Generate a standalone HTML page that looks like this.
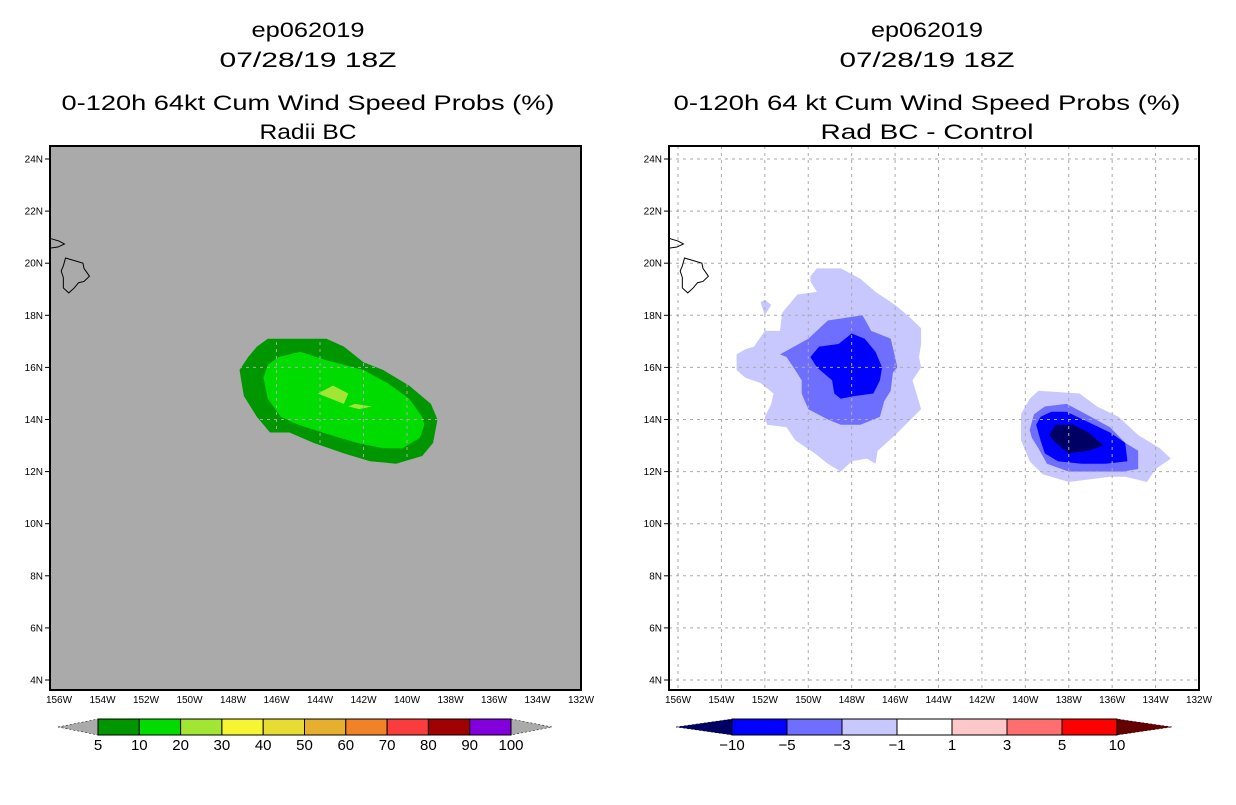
<!DOCTYPE html>
<html><head><meta charset="utf-8">
<style>
html,body{margin:0;padding:0;background:#fff;}
svg text{font-family:"Liberation Sans",sans-serif;}
</style></head>
<body>
<svg id="chart" width="1236" height="800" viewBox="0 0 1236 800" xmlns="http://www.w3.org/2000/svg">
<g font-size="21" text-anchor="middle" fill="#000" lengthAdjust="spacingAndGlyphs">
<text x="308" y="37" textLength="113" lengthAdjust="spacingAndGlyphs">ep062019</text>
<text x="308" y="67" textLength="177" lengthAdjust="spacingAndGlyphs">07/28/19 18Z</text>
<text x="308" y="110" textLength="493" lengthAdjust="spacingAndGlyphs">0-120h 64kt Cum Wind Speed Probs (%)</text>
<text x="308" y="139" textLength="97" lengthAdjust="spacingAndGlyphs">Radii BC</text>
<text x="927" y="37" textLength="112" lengthAdjust="spacingAndGlyphs">ep062019</text>
<text x="927" y="67" textLength="175" lengthAdjust="spacingAndGlyphs">07/28/19 18Z</text>
<text x="927" y="110" textLength="507" lengthAdjust="spacingAndGlyphs">0-120h 64 kt Cum Wind Speed Probs (%)</text>
<text x="927" y="139" textLength="213" lengthAdjust="spacingAndGlyphs">Rad BC - Control</text>
</g>
<g id="left"></g>
<g id="right"></g>
</svg>
<script>
const lonTicks=[156,154,152,150,148,146,144,142,140,138,136,134,132];
const latTicks=[4,6,8,10,12,14,16,18,20,22,24];
// Radii BC probability contours (lon W, lat N)
const probOuter10=[[146.4,17.1],[143.7,17.1],[142.9,16.8],[142.0,16.2],[141.1,15.9],[139.9,15.3],[138.9,14.6],[138.6,14.0],[138.8,13.1],[139.3,12.6],[140.5,12.3],[141.7,12.4],[142.9,12.7],[144.3,13.1],[145.4,13.5],[146.3,13.5],[146.9,14.1],[147.5,14.9],[147.7,15.9],[147.3,16.4],[146.9,16.8]];
const prob10to20=[[145.9,16.4],[144.9,16.6],[143.8,16.3],[142.0,15.9],[140.9,15.4],[139.9,14.8],[139.3,14.1],[139.2,13.8],[139.4,13.3],[140.2,12.9],[141.1,12.9],[142.3,13.1],[143.5,13.4],[145.0,13.8],[145.8,14.1],[146.4,14.8],[146.6,15.6],[146.4,16.1]];
const prob20a=[[144.1,15.0],[143.4,15.3],[142.7,15.0],[142.9,14.6],[143.5,14.8]];
const prob20b=[[142.7,14.5],[142.4,14.6],[141.6,14.5],[142.2,14.4]];
// Difference contours
const diffWest3=[[149.9,19.5],[149.6,19.8],[148.5,19.8],[147.6,19.4],[146.9,18.9],[146.0,18.4],[145.3,17.9],[144.8,17.5],[144.8,16.9],[144.9,16.4],[144.8,16.0],[145.2,15.5],[144.8,14.4],[145.4,13.9],[146.0,13.4],[146.8,12.8],[146.9,12.3],[147.3,12.5],[148.0,12.4],[148.5,12.0],[149.1,12.3],[149.7,12.7],[150.6,13.2],[151.0,13.7],[151.9,13.8],[152.0,14.1],[151.7,14.6],[151.6,15.0],[152.2,15.4],[152.9,15.6],[153.3,15.9],[153.3,16.5],[152.9,16.7],[152.5,16.8],[152.0,17.4],[151.3,17.4],[151.2,18.1],[150.5,18.8],[149.6,18.9],[149.9,19.3]];
const diffIslet=[[152.2,18.5],[152.0,18.6],[151.7,18.4],[152.0,18.0]];
const diffWest5=[[151.3,16.5],[150.0,17.1],[149.1,17.8],[147.5,18.0],[147.1,17.4],[146.2,17.1],[146.0,16.4],[145.9,16.0],[146.1,15.8],[146.2,15.1],[146.5,14.7],[146.7,14.1],[147.6,13.8],[148.5,13.8],[149.1,14.0],[150.0,14.4],[150.3,15.0],[150.3,15.5],[150.6,15.9],[151.0,16.4]];
const diffWest10=[[149.9,16.4],[149.5,16.8],[148.6,16.9],[148.0,17.3],[147.4,17.1],[146.9,16.6],[146.6,16.0],[146.7,15.5],[147.0,15.0],[147.9,14.9],[148.5,14.8],[148.8,15.0],[148.9,15.5],[149.6,16.0]];
const diffEast3=[[140.2,14.2],[139.8,14.8],[139.4,15.1],[137.5,15.0],[136.7,14.5],[135.7,14.1],[134.8,13.4],[133.8,12.9],[133.3,12.5],[134.0,12.1],[134.4,11.6],[135.4,11.8],[136.1,11.8],[138.0,11.6],[139.2,11.9],[139.8,12.4],[140.2,13.2]];
const diffEast5=[[139.8,13.6],[139.6,14.2],[139.1,14.5],[138.1,14.6],[137.2,14.2],[136.1,13.7],[135.4,13.1],[134.8,12.8],[134.8,12.1],[135.5,12.0],[136.9,12.0],[138.0,12.0],[139.0,12.3],[139.4,12.9],[139.7,13.3]];
const diffEast10=[[139.5,13.8],[139.3,14.1],[138.8,14.3],[138.1,14.3],[137.1,13.9],[136.1,13.5],[135.4,13.1],[135.3,12.4],[136.3,12.3],[137.4,12.3],[138.5,12.4],[139.1,12.7],[139.3,13.2]];
const diffEastMin=[[138.9,13.4],[138.6,13.8],[137.8,13.8],[137.1,13.5],[136.4,13.0],[137.1,12.8],[138.0,12.7],[138.6,13.1]];
const bigIsland=[[155.7,20.2],[154.9,20.0],[154.85,19.8],[154.6,19.5],[154.85,19.3],[155.1,19.25],[155.3,19.05],[155.55,18.86],[155.8,19.05],[155.8,19.45],[155.9,19.7],[155.8,19.9]];
const maui=[[156.4,20.95],[156.0,20.85],[155.75,20.74],[156.05,20.62],[156.4,20.58]];
const probLevels=["5","10","20","30","40","50","60","70","80","90","100"];
const probColors=["#009600","#00dc00","#a0e632","#f5f532","#e6dc32","#e6af2d","#f08228","#fa3c3c","#a00000","#8200dc"];
const diffLevels=["\u221210","\u22125","\u22123","\u22121","1","3","5","10"];
const diffColors=["#0000ff","#6e6eff","#c8c8ff","#ffffff","#ffc8c8","#ff6e6e","#ff0000"];

const NS="http://www.w3.org/2000/svg";
function mk(tag,attrs,parent){const e=document.createElementNS(NS,tag);for(const k in attrs)e.setAttribute(k,attrs[k]);parent.appendChild(e);return e;}

function panel(g,L,R,bg,id){
  const T=146,B=690;
  const x0=L+9, sx=(R-x0)/24;
  const X=lon=>x0+(156-lon)*sx;
  const Y=lat=>159+(24-lat)*26.05;
  const cid='clip'+id;
  const cp=mk('clipPath',{id:cid},g);mk('rect',{x:L,y:T,width:R-L,height:B-T},cp);
  const bgr=mk('rect',{x:L,y:T,width:R-L,height:B-T,fill:bg},g);
  
  
  const inner=mk('g',{'clip-path':'url(#'+cid+')'},g);
  const poly=(pts,fill,name)=>{const p=mk('polygon',{points:pts.map(q=>X(q[0]).toFixed(1)+','+Y(q[1]).toFixed(1)).join(' '),fill:fill},inner);
    
    return p;};
  return {X,Y,inner,poly,T,B,L,R,finish(){
    const grid=mk('g',{stroke:'#aaaaaa','stroke-width':1,'stroke-dasharray':'3,4'},inner);
    
    
    lonTicks.forEach(l=>{if(l>132)mk('line',{x1:X(l),x2:X(l),y1:T,y2:B},grid);});
    latTicks.forEach(l=>mk('line',{x1:L,x2:R,y1:Y(l),y2:Y(l)},grid));
    const coast=mk('g',{fill:'none',stroke:'#000','stroke-width':1},inner);
    
    
    [bigIsland,maui].forEach(pts=>mk('polygon',{points:pts.map(q=>X(q[0])+','+Y(q[1])).join(' ')},coast));
    const fr=mk('rect',{x:L,y:T,width:R-L,height:B-T,fill:'none',stroke:'#000','stroke-width':2},g);
    
    
    latTicks.forEach(l=>{mk('line',{x1:L-5,x2:L,y1:Y(l),y2:Y(l),stroke:'#000'},g);
      const t=mk('text',{x:L-7,y:Y(l)+3.5,'font-size':10,'text-anchor':'end'},g);t.textContent=l+'N';
      
      });
    lonTicks.forEach(l=>{const t=mk('text',{x:X(l),y:B+13,'font-size':10,'text-anchor':'middle'},g);t.textContent=l+'W';
      
      });
  }};
}
// Left
const gl=document.getElementById('left');
const pl=panel(gl,50,581,'#aaaaaa','L');
pl.poly(probOuter10,probColors[0],'prob-5-10');
pl.poly(prob10to20,probColors[1],'prob-10-20');
pl.poly(prob20a,probColors[2],'prob-20-30');
pl.poly(prob20b,probColors[2],'prob-20-30');
pl.finish();
// Right
const gr=document.getElementById('right');
const pr=panel(gr,669,1199,'#ffffff','R');
pr.poly(diffWest3,diffColors[2],'diff-west-minus3');
pr.poly(diffIslet,diffColors[2],'diff-islet-minus3');
pr.poly(diffWest5,diffColors[1],'diff-west-minus5');
pr.poly(diffWest10,diffColors[0],'diff-west-minus10');
pr.poly(diffEast3,diffColors[2],'diff-east-minus3');
pr.poly(diffEast5,diffColors[1],'diff-east-minus5');
pr.poly(diffEast10,diffColors[0],'diff-east-minus10');
pr.poly(diffEastMin,'#000064','diff-east-below-minus10');
pr.finish();

function colorbar(parent,x0,x1,tipL,tipR,colors,labels,lowCol,highCol,name){
  const g=mk('g',{},parent);
  
  
  const y0=719,y1=735,ym=(y0+y1)/2,n=colors.length,w=(x1-x0)/n;
  const a=mk('polygon',{points:`${tipL},${ym} ${x0},${y0} ${x0},${y1}`,fill:lowCol,stroke:'#000','stroke-width':0.5,'stroke-dasharray':'2,2'},g);
  
  
  const b=mk('polygon',{points:`${tipR},${ym} ${x1},${y0} ${x1},${y1}`,fill:highCol,stroke:'#000','stroke-width':0.5,'stroke-dasharray':'2,2'},g);
  
  
  colors.forEach((c,i)=>{const r=mk('rect',{x:x0+i*w,y:y0,width:w,height:y1-y0,fill:c,stroke:'#000','stroke-width':1},g);
    
    });
  labels.forEach((s,i)=>{const t=mk('text',{x:x0+i*w,y:750,'font-size':15,'text-anchor':'middle'},g);t.textContent=s;
    
    });
}
colorbar(gl,98,511,58,552,probColors,probLevels,'#aaaaaa','#aaaaaa','left-colorbar');
colorbar(gr,732,1117,676,1172,diffColors,diffLevels,'#000064','#640000','right-colorbar');
</script>
</body></html>
